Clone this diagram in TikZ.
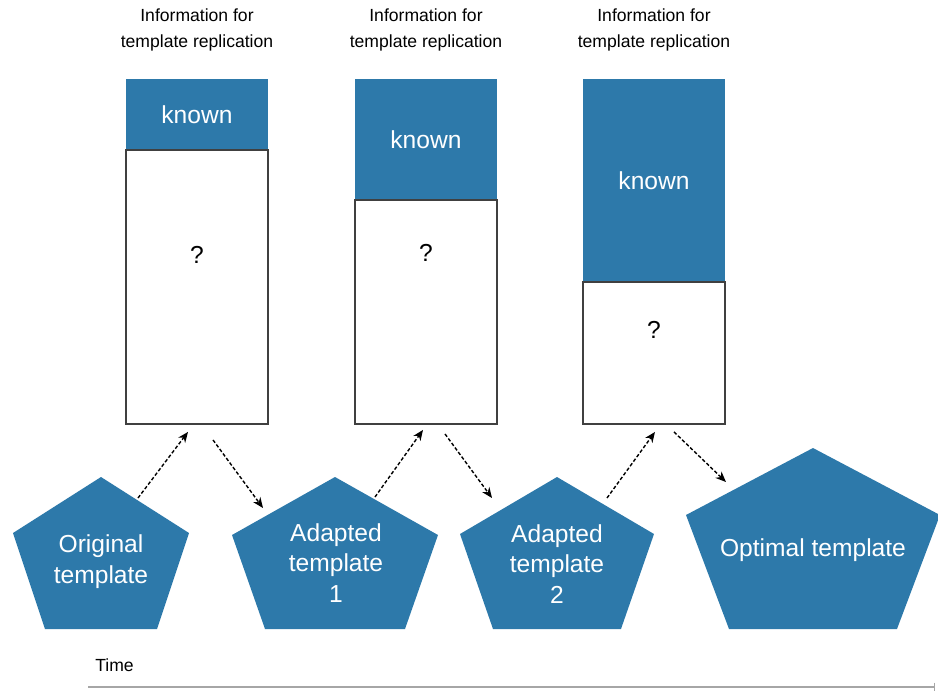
\documentclass[tikz,border=0pt]{standalone}
\usepackage{fontspec}
\setmainfont{Liberation Sans}
\usetikzlibrary{calc,arrows.meta}
\definecolor{tplblue}{RGB}{45,121,170}

\begin{document}
\begin{tikzpicture}[
    x=0.02cm, y=-0.02cm,
    every node/.style={font=\fontsize{14}{17.5}\selectfont, inner sep=0pt},
    knownpart/.style={rectangle, fill=tplblue, text=white, minimum width=2.84cm},
    openpart/.style={rectangle, draw=black!75, line width=1.1pt, fill=white, minimum width=2.84cm},
    infolabel/.style={align=center, font=\fontsize{10}{15.3}\selectfont},
    penlabel/.style={align=center, text=white},
    flow/.style={dash pattern=on 2pt off 1.2pt, line width=0.8pt, -{Stealth[length=6pt,width=5pt]}}
]
\useasboundingbox (0,0) rectangle (938,691);

% columns: known part on top, open part below
\foreach \i/\cx/\kh/\oh/\qy in {1/197/70/274/255, 2/426/120/224/253, 3/654/202/142/330} {
    \node[openpart, minimum height=\oh*0.02cm, anchor=north] (open\i) at (\cx,79+\kh) {};
    \node[knownpart, minimum height=\kh*0.02cm, anchor=north] (known\i) at (\cx,79) {known};
    \node (q\i) at (\cx,\qy) {?};
    \node[infolabel] (info\i) at (\cx,30) {Information for\\template replication};
}

% pentagons
\foreach \cx/\tp/\hw/\ym/\bw in {101/477/88/533/56, 335/477/103/535/70, 557/477/97/534/64, 813/448/127/515/84} {
    \fill[tplblue] (\cx,\tp) -- (\cx+\hw,\ym) -- (\cx+\bw,629) -- (\cx-\bw,629) -- (\cx-\hw,\ym) -- cycle;
}
\node[penlabel] (org) at (101,562) {Original\\template};
\node[penlabel] (ad1) at (336,563) {Adapted\\template\\1};
\node[penlabel] (ad2) at (557,564) {Adapted\\template\\2};
\node[penlabel] (opt) at (813,550) {Optimal template};

\coordinate (org-up) at (138,498);
\coordinate (ad1-in) at (263,508);
\coordinate (ad1-up) at (375,497);
\coordinate (ad2-in) at (492,498);
\coordinate (ad2-up) at (607,498);
\coordinate (opt-in) at (726,482);

\draw[flow] (org-up) -- ($(open1.south)+(-9,7)$);
\draw[flow] ($(open1.south)+(16,15)$) -- (ad1-in);
\draw[flow] (ad1-up) -- ($(open2.south)+(-3,5)$);
\draw[flow] ($(open2.south)+(19,9)$) -- (ad2-in);
\draw[flow] (ad2-up) -- ($(open3.south)+(1,7)$);
\draw[flow] ($(open3.south)+(20,7)$) -- (opt-in);

% time axis
\node[font=\fontsize{10}{12}\selectfont, anchor=west] (time) at (95,665) {Time};
\coordinate (t0) at (88,687);
\coordinate (t1) at (935,687);
\draw[gray!70, line width=0.6pt, -{Bar[width=5pt]}] (t0) -- (t1);
\end{tikzpicture}
\end{document}
